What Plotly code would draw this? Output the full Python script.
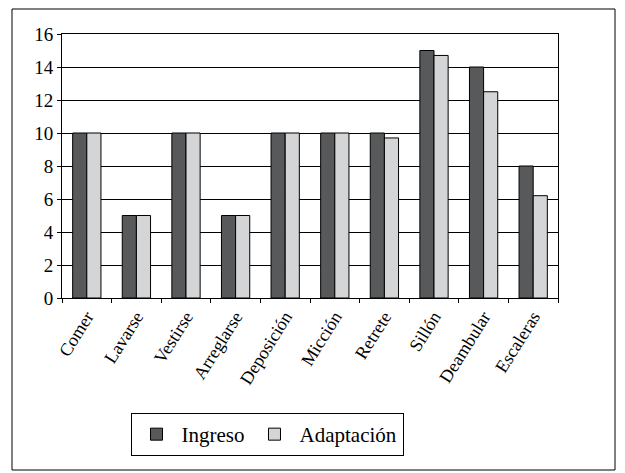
import plotly.graph_objects as go

categories = ["Comer", "Lavarse", "Vestirse", "Arreglarse", "Deposición",
              "Micción", "Retrete", "Sillón", "Deambular", "Escaleras"]
ingreso = [10, 5, 10, 5, 10, 10, 10, 15, 14, 8]
adaptacion = [10, 5, 10, 5, 10, 10, 9.7, 14.7, 12.5, 6.2]
y_ticks = [0, 2, 4, 6, 8, 10, 12, 14, 16]

W, H = 625, 473
ML, MR, MT, MB = 62, 67, 34, 175
pw, ph = W - ML - MR, H - MT - MB

def px(x):
    return (x - ML) / pw

def py(y):
    return 1 - (y - MT) / ph

font = "Liberation Serif"

fig = go.Figure()
fig.add_bar(x=categories, y=ingreso, name="Ingreso",
            marker=dict(color="#58595b", line=dict(color="black", width=1)))
fig.add_bar(x=categories, y=adaptacion, name="Adaptación",
            marker=dict(color="#d4d5d7", line=dict(color="black", width=1)))

fig.update_layout(
    width=W, height=H,
    margin=dict(l=ML, r=MR, t=MT, b=MB),
    paper_bgcolor="white", plot_bgcolor="white",
    barmode="group", bargap=0.43, bargroupgap=0,
    font=dict(family=font, color="black", size=18),
    showlegend=True,
    legend=dict(orientation="h", x=px(267), xanchor="center",
                y=py(413), yanchor="top",
                bordercolor="black", borderwidth=1,
                font=dict(size=21, family=font, color="black"), itemwidth=40),
    shapes=[dict(type="rect", xref="paper", yref="paper",
                 x0=px(12), x1=px(615), y0=py(470), y1=py(9),
                 line=dict(color="black", width=1))],
)
fig.update_xaxes(showline=True, linecolor="black", linewidth=1, mirror=True,
                 ticks="outside", ticklen=4, tickcolor="black",
                 tickson="boundaries", tickangle=-58,
                 tickfont=dict(size=18, family=font, color="black"))
fig.update_yaxes(range=[0, 16], tickvals=y_ticks, showgrid=True,
                 gridcolor="black", gridwidth=1,
                 showline=True, linecolor="black", linewidth=1, mirror=True,
                 ticks="outside", ticklen=4, tickcolor="black",
                 zeroline=False, tickfont=dict(size=19, family=font, color="black"))

fig.write_html("out.html", config={"displayModeBar": False},
               post_script="document.body.style.margin='0';document.body.style.overflow='hidden';")
